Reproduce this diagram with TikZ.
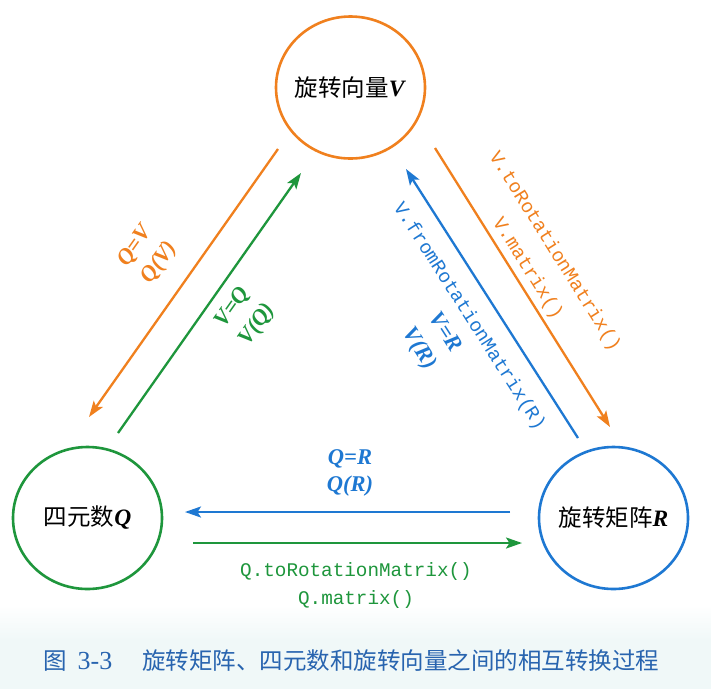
\documentclass[tikz,border=0pt]{standalone}
\usepackage{fontspec}
\setmainfont{Liberation Serif}
\newfontfamily\cjk{Noto Sans CJK SC}
\newfontfamily\codefont{Liberation Mono}
\usetikzlibrary{arrows.meta,shapes.geometric}
\definecolor{cOr}{RGB}{240,128,30}
\definecolor{cGr}{RGB}{30,150,60}
\definecolor{cBl}{RGB}{30,120,210}
\definecolor{cCap}{RGB}{40,100,175}
\definecolor{cBg}{RGB}{240,248,248}
\newcommand{\mth}[1]{\textbf{\textit{#1}}}
\newcommand{\cd}[1]{{\fontsize{19.3}{23}\codefont #1}}
\tikzset{
  ring/.style={ellipse, draw, line width=2.6pt, minimum width=149pt, minimum height=142pt, inner sep=0pt},
  ringtext/.style={inner sep=0pt, font=\fontsize{23.5}{28}\selectfont},
  conn/.style={line width=2.3pt, -{Stealth[length=16pt,width=11pt,inset=3.5pt]}},
  mlabel/.style={inner sep=0pt, align=center},
}
\begin{document}
\begin{tikzpicture}[x=1pt,y=-1pt]
\useasboundingbox (0,0) rectangle (711,689);
\fill[white] (0,0) rectangle (711,689);
\shade[top color=white, bottom color=cBg] (0,605) rectangle (711,640);
\fill[cBg] (0,640) rectangle (711,689);

% circles
\node[ring, draw=cOr] (V) at (350.5,87.5) {};
\node[ring, draw=cGr] (Q) at (87.5,518) {};
\node[ring, draw=cBl] (R) at (613.5,518) {};
\node[ringtext] (Vt) at (V) {{\cjk 旋转向量}\mth{V}};
\node[ringtext] (Qt) at (Q) {{\cjk 四元数}\mth{Q}};
\node[ringtext] (Rt) at (R) {{\cjk 旋转矩阵}\mth{R}};

% arrow end points
\coordinate (a1s) at (278,149); \coordinate (a1e) at (89,417);
\coordinate (a2s) at (118,433); \coordinate (a2e) at (301,173);
\coordinate (a3s) at (435,148); \coordinate (a3e) at (610,427);
\coordinate (a4s) at (578,438); \coordinate (a4e) at (406,169);
\coordinate (a5s) at (510,512); \coordinate (a5e) at (185,512);
\coordinate (a6s) at (193,543); \coordinate (a6e) at (522,543);

\draw[conn, cOr] (a1s) -- (a1e);
\draw[conn, cGr] (a2s) -- (a2e);
\draw[conn, cOr] (a3s) -- (a3e);
\draw[conn, cBl] (a4s) -- (a4e);
\draw[conn, cBl] (a5s) -- (a5e);
\draw[conn, cGr] (a6s) -- (a6e);

% left labels
\node[mlabel, cOr, rotate=54.8, font=\fontsize{22.5}{29}\selectfont] (lq) at (148,254.5) {\mth{Q=V}\\\mth{Q(V)}};
\node[mlabel, cGr, rotate=54.8, font=\fontsize{22.5}{30}\selectfont] (lv) at (245.5,316.5) {\mth{V=Q}\\\mth{V(Q)}};

% right labels
\node[mlabel, cOr, rotate=-57.9, font=\fontsize{19.3}{32}\codefont] (ro) at (541,260) {V.toRotationMatrix()\\V.matrix()};
\node[mlabel, cBl, rotate=-57.4, font=\fontsize{22.5}{30}\selectfont] (rb) at (443.5,333) {\cd{V.fromRotationMatrix(R)}\\\mth{V=R}\\\mth{V(R)}};

% bottom labels
\node[mlabel, cBl, font=\fontsize{22.5}{26.5}\selectfont] (bq) at (350,473) {\mth{Q=R}\\\mth{Q(R)}};
\node[mlabel, cGr, font=\fontsize{19.3}{28}\codefont] (bg) at (356,585) {Q.toRotationMatrix()\\Q.matrix()};

% caption
\node[anchor=west, inner sep=0pt, cCap, font=\fontsize{23.5}{28}\selectfont] (capn) at (43,661) {{\cjk 图}\hspace{11pt}{\fontsize{26}{28}\selectfont 3-3}};
\node[anchor=west, inner sep=0pt, cCap, font=\fontsize{23.5}{28}\selectfont] (capt) at (142,661) {\cjk 旋转矩阵、四元数和旋转向量之间的相互转换过程};
\end{tikzpicture}
\end{document}
